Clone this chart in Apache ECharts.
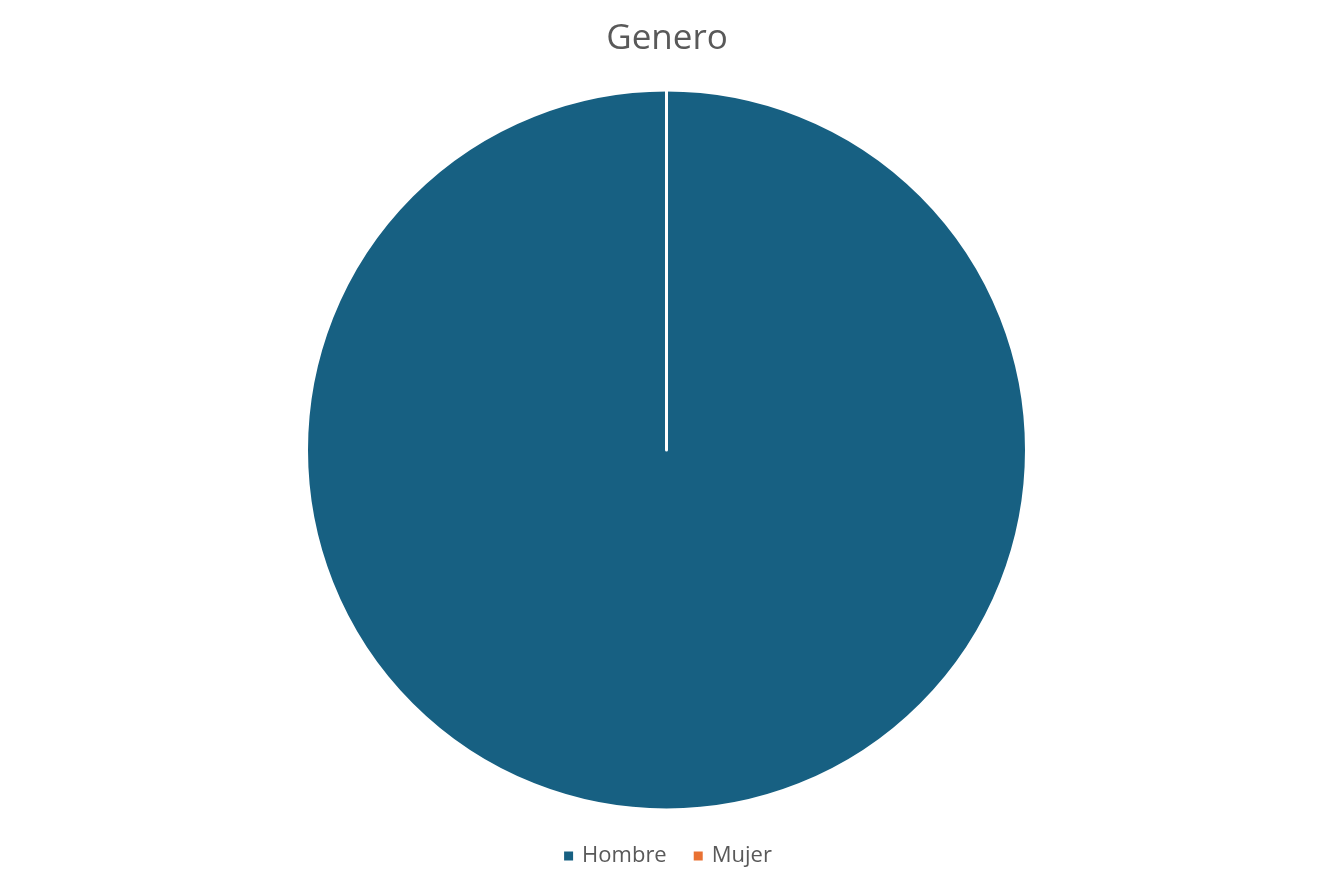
<!DOCTYPE html>
<html>
<head>
<meta charset="utf-8">
<script src="https://cdn.jsdelivr.net/npm/echarts@6/dist/echarts.min.js"></script>
<style>
  html, body { margin: 0; padding: 0; background: #fff; }
  #main { width: 1334px; height: 889px; }
</style>
</head>
<body>
<div id="main"></div>
<script>
var categories = ["Hombre", "Mujer"];
var values = [100, 0];
var colors = ["#176082", "#e97132"];

var myChart = echarts.init(document.getElementById("main"));

var option = {
  backgroundColor: "#ffffff",
  animation: false,
  color: colors,
  title: {
    text: "Genero",
    left: "center",
    top: 17,
    textStyle: {
      fontFamily: "Open Sans",
      fontSize: 35,
      fontWeight: "normal",
      color: "#595959"
    }
  },
  legend: {
    data: categories,
    bottom: 17,
    left: "center",
    icon: "rect",
    itemWidth: 11,
    itemHeight: 11,
    itemGap: 25,
    textStyle: {
      fontFamily: "Open Sans",
      fontSize: 22,
      color: "#595959",
      padding: [0, 0, 0, 3]
    }
  },
  series: [
    {
      type: "pie",
      center: [666.5, 450],
      radius: 360,
      startAngle: 90,
      clockwise: true,
      label: { show: false },
      labelLine: { show: false },
      itemStyle: {
        borderColor: "#ffffff",
        borderWidth: 3
      },
      emphasis: { disabled: true },
      data: categories.map(function (c, i) {
        return { name: c, value: values[i] };
      })
    }
  ]
};
myChart.setOption(option);
</script>
</body>
</html>
